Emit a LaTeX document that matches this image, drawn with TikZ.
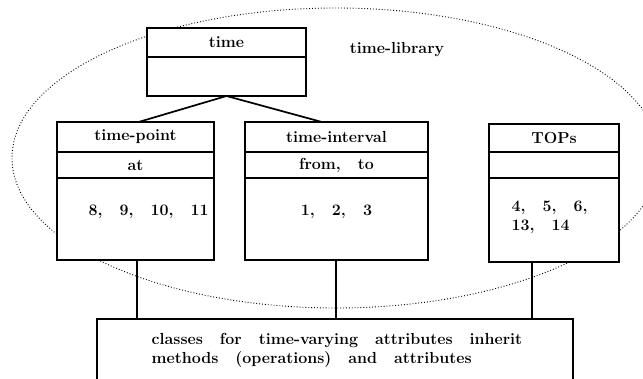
\documentclass[tikz,border=0pt]{standalone}
\usepackage{tikz}
\usetikzlibrary{calc,positioning}

\newcommand{\classfont}{\bfseries\fontsize{16}{19}\selectfont\spaceskip=17pt\relax}

\begin{document}
\begin{tikzpicture}[x=1pt,y=-1pt,line width=1.3pt,
    box/.style={draw,fill=white,rectangle,outer sep=0pt,inner sep=0pt,font=\classfont},
    lbl/.style={inner sep=0pt,font=\classfont},
    libline/.style={line width=0.9pt,dash pattern=on 0.9pt off 2pt},
    link/.style={line width=1.7pt}]
  \useasboundingbox (0,0) rectangle (643,379);

  % the library
  \draw[libline] (336,158) ellipse [x radius=324, y radius=150];
  \node[lbl] (lib) at (397,50) {time-library};

  % superclass
  \node[box,minimum width=159,minimum height=29] (time) at (226.5,42.5) {time};
  \node[box,minimum width=159,minimum height=39,below=0pt of time] (time-body) {};

  % subclasses
  \node[box,minimum width=157,minimum height=30] (tp) at (135.5,137) {time-point};
  \node[box,minimum width=157,minimum height=26,below=0pt of tp] (tp-att) {at};
  \node[box,minimum width=157,minimum height=82,below=0pt of tp-att] (tp-body) {};
  \node[lbl,anchor=west] (tp-nums) at ([xshift=31pt,yshift=7pt]tp-body.west) {8, 9, 10, 11};

  \node[box,minimum width=183,minimum height=30] (ti) at (336.5,137) {time-interval};
  \node[box,minimum width=183,minimum height=26,below=0pt of ti] (ti-att) {from, to};
  \node[box,minimum width=183,minimum height=82,below=0pt of ti-att] (ti-body) {};
  \node[lbl] (ti-nums) at ([yshift=7pt]ti-body.center) {1, 2, 3};

  \node[box,minimum width=130,minimum height=28] (tops) at (554,138) {TOPs};
  \node[box,minimum width=130,minimum height=26,below=0pt of tops] (tops-att) {};
  \node[box,minimum width=130,minimum height=84,below=0pt of tops-att] (tops-body) {};
  \node[lbl,align=left,anchor=west] (tops-nums) at ([xshift=22pt,yshift=3pt]tops-body.west) {4, 5, 6,\\13, 14};

  % inheriting classes
  \node[box,minimum width=476,minimum height=80,anchor=north] (base) at (335,319) {};
  \node[lbl,align=left,anchor=north west] (base-txt) at ([xshift=54pt,yshift=-14pt]base.north west)
    {classes for time-varying attributes inherit\\methods (operations) and attributes};

  \draw[link] (time-body.south) -- ($(tp.north west)!0.52!(tp.north east)$);
  \draw[link] (time-body.south) -- ($(ti.north west)!0.42!(ti.north east)$);
  \draw[link] ([xshift=1.5pt]tp-body.south) -- ([xshift=1.5pt]tp-body.south |- base.north);
  \draw[link] ([xshift=-0.5pt]ti-body.south) -- ([xshift=-0.5pt]ti-body.south |- base.north);
  \draw[link] ([xshift=-22pt]tops-body.south) -- ([xshift=-22pt]tops-body.south |- base.north);
\end{tikzpicture}
\end{document}
